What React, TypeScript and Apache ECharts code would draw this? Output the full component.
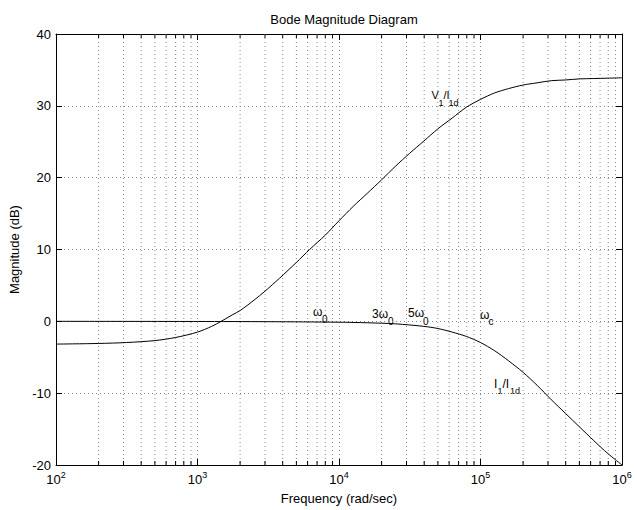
import React, { useEffect, useRef } from 'react';
import * as echarts from 'echarts';

const FONT = '"Liberation Sans", Arial, Helvetica, sans-serif';

// V1/I1d magnitude (dB)
const v1Freq = [100, 200, 316, 500, 700, 1000, 1260, 1470, 1780, 2000, 2510, 3000, 3800, 5000, 6200, 8000, 10000, 12600, 15800, 20000, 25100, 31600, 39800, 50000, 63100, 79400, 100000, 126000, 158000, 200000, 251000, 316000, 398000, 501000, 631000, 794000, 1000000];
const v1Mag = [-3.17, -3.08, -2.95, -2.68, -2.25, -1.5, -0.7, 0.0, 0.95, 1.5, 2.95, 4.2, 6.0, 8.2, 10.0, 12.0, 14.0, 16.0, 17.8, 19.7, 21.6, 23.4, 25.1, 26.8, 28.3, 29.8, 30.9, 31.8, 32.4, 32.9, 33.2, 33.5, 33.6, 33.75, 33.8, 33.85, 33.9];

// I1/I1d magnitude (dB)
const i1Freq = [100, 1000, 3160, 10000, 15800, 25100, 39800, 50000, 63100, 79400, 100000, 126000, 158000, 200000, 251000, 316000, 398000, 501000, 631000, 794000, 1000000];
const i1Mag = [0.0, -0.02, -0.05, -0.12, -0.2, -0.35, -0.7, -1.0, -1.5, -2.1, -2.95, -4.1, -5.5, -7.1, -8.9, -10.9, -12.8, -14.7, -16.6, -18.4, -20.0];

// axis ticks
const decadeStarts = [100, 1000, 10000, 100000];
const minorMultipliers = [2, 3, 4, 5, 6, 7, 8, 9];
const xMin = 100;
const xMax = 1000000;
const yMin = -20;
const yMax = 40;
const yStep = 10;

const minorFreqs: number[] = [];
decadeStarts.forEach((d) => minorMultipliers.forEach((m) => minorFreqs.push(d * m)));

const GRID_COLOR = '#8a8a8a';

function txt(text: string, x: number, y: number, size: number) {
  return {
    type: 'text',
    x,
    y,
    silent: true,
    style: {
      text,
      fill: '#000',
      fontSize: size,
      fontFamily: FONT,
      align: 'left',
      verticalAlign: 'middle',
      textAlign: 'left',
      textVerticalAlign: 'middle',
    },
  };
}

export default function App() {
  const ref = useRef<HTMLDivElement>(null);

  useEffect(() => {
    if (!ref.current) return;
    const chart = echarts.init(ref.current, undefined, { renderer: 'svg' });

    const option: any = {
      animation: false,
      backgroundColor: '#fff',
      textStyle: { fontFamily: FONT, color: '#000' },
      title: {
        text: 'Bode Magnitude Diagram',
        left: 339,
        top: 8,
        textAlign: 'center',
        textStyle: { fontSize: 13, fontWeight: 'normal', color: '#000', fontFamily: FONT },
      },
      grid: { left: 56, right: 15, top: 34, bottom: 44, containLabel: false },
      xAxis: [
        {
          type: 'log',
          logBase: 10,
          min: xMin,
          max: xMax,
          position: 'bottom',
          name: 'Frequency (rad/sec)',
          nameLocation: 'middle',
          nameGap: 27,
          nameTextStyle: { fontSize: 13, color: '#000', fontFamily: FONT },
          axisLine: { show: true, onZero: false, lineStyle: { color: '#000', width: 1 } },
          axisTick: { show: true, inside: true, length: 6, lineStyle: { color: '#000' } },
          axisLabel: {
            show: true,
            showMinLabel: true,
            showMaxLabel: true,
            margin: 5,
            color: '#000',
            formatter: (v: number) => `{b|10}{e|${Math.round(Math.log10(v))}}`,
            rich: {
              b: { fontSize: 13, fontFamily: FONT, color: '#000' },
              e: { fontSize: 9, fontFamily: FONT, color: '#000', padding: [0, 0, 9, 0] },
            },
          },
          splitLine: { show: true, lineStyle: { color: GRID_COLOR, type: [1, 3], width: 1 } },
        },
        {
          type: 'log',
          logBase: 10,
          min: xMin,
          max: xMax,
          position: 'top',
          axisLine: { show: true, onZero: false, lineStyle: { color: '#000', width: 1 } },
          axisTick: { show: true, inside: true, length: 6, lineStyle: { color: '#000' } },
          axisLabel: { show: false },
          splitLine: { show: false },
        },
      ],
      yAxis: [
        {
          type: 'value',
          min: yMin,
          max: yMax,
          interval: yStep,
          position: 'left',
          name: 'Magnitude (dB)',
          nameLocation: 'middle',
          nameGap: 33,
          nameTextStyle: { fontSize: 13, color: '#000', fontFamily: FONT },
          axisLine: { show: true, onZero: false, lineStyle: { color: '#000', width: 1 } },
          axisTick: { show: true, inside: true, length: 6, lineStyle: { color: '#000' } },
          axisLabel: { show: true, margin: 5, fontSize: 13, color: '#000', fontFamily: FONT },
          splitLine: { show: true, lineStyle: { color: GRID_COLOR, type: [1, 3], width: 1 } },
        },
        {
          type: 'value',
          min: yMin,
          max: yMax,
          interval: yStep,
          position: 'right',
          axisLine: { show: true, onZero: false, lineStyle: { color: '#000', width: 1 } },
          axisTick: { show: true, inside: true, length: 6, lineStyle: { color: '#000' } },
          axisLabel: { show: false },
          splitLine: { show: false },
        },
      ],
      series: [
        {
          type: 'custom',
          name: 'minor',
          xAxisIndex: 0,
          yAxisIndex: 0,
          silent: true,
          z: 1,
          data: minorFreqs.map((f) => [f, 0]),
          encode: { x: 0, y: 1 },
          renderItem: (_params: any, api: any) => {
            const f = api.value(0);
            const top = api.coord([f, yMax]);
            const bot = api.coord([f, yMin]);
            return {
              type: 'group',
              children: [
                {
                  type: 'line',
                  shape: { x1: top[0], y1: top[1], x2: bot[0], y2: bot[1] },
                  style: { stroke: GRID_COLOR, lineWidth: 1, lineDash: [1, 3] },
                },
                {
                  type: 'line',
                  shape: { x1: bot[0], y1: bot[1], x2: bot[0], y2: bot[1] - 4 },
                  style: { stroke: '#000', lineWidth: 1 },
                },
                {
                  type: 'line',
                  shape: { x1: top[0], y1: top[1], x2: top[0], y2: top[1] + 4 },
                  style: { stroke: '#000', lineWidth: 1 },
                },
              ],
            };
          },
        },
        {
          type: 'line',
          name: 'V1/I1d',
          xAxisIndex: 0,
          yAxisIndex: 0,
          data: v1Freq.map((f, i) => [f, v1Mag[i]]),
          showSymbol: false,
          smooth: 0.3,
          z: 5,
          lineStyle: { color: '#000', width: 1 },
        },
        {
          type: 'line',
          name: 'I1/I1d',
          xAxisIndex: 0,
          yAxisIndex: 0,
          data: i1Freq.map((f, i) => [f, i1Mag[i]]),
          showSymbol: false,
          smooth: 0.3,
          z: 5,
          lineStyle: { color: '#000', width: 1 },
        },
      ],
      graphic: [
        txt('ω', 313, 312, 12),
        txt('0', 322, 319.5, 10),
        txt('3ω', 372, 313.5, 12),
        txt('0', 388, 321, 10),
        txt('5ω', 408, 312.5, 12),
        txt('0', 423, 321, 10),
        txt('ω', 480, 314.5, 12),
        txt('c', 488.5, 321, 10),
        txt('V', 431.5, 94.5, 11),
        txt('1', 438.5, 103, 9),
        txt('/I', 443.5, 94.5, 11),
        txt('1d', 448.5, 102.5, 9),
        txt('I', 494, 384, 12),
        txt('1', 497.5, 391, 9),
        txt('/I', 502.5, 384, 12),
        txt('1d', 510, 391, 9),
      ],
    };

    chart.setOption(option);
    return () => chart.dispose();
  }, []);

  return (
    <div
      ref={ref}
      style={{ position: 'fixed', left: 0, top: 0, width: 637, height: 510, background: '#fff' }}
    />
  );
}
